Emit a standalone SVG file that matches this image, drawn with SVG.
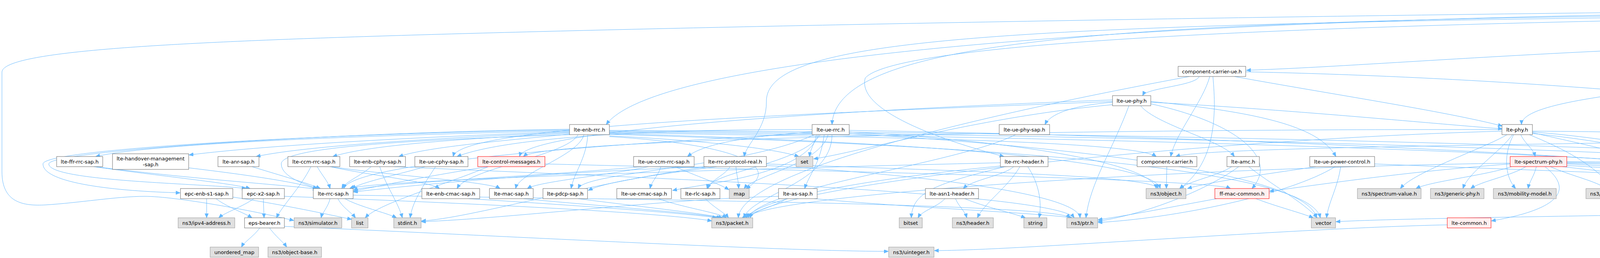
<svg xmlns="http://www.w3.org/2000/svg" width="5567" height="661" viewBox="0 0 5567 661">
<style>
text{font-family:"DejaVu Sans","Liberation Sans",sans-serif;font-size:13px;text-anchor:middle;dominant-baseline:central;fill:#000}
.w rect{fill:#fff;stroke:#666;stroke-width:1}
.g rect{fill:#e0e0e0;stroke:#999;stroke-width:1}
.r rect{fill:#fff0f0;stroke:#f00;stroke-width:1}
.t rect{fill:#999;stroke:#666;stroke-width:1}
#edges path{fill:none;stroke:#63b8ff;stroke-width:1;marker-end:url(#a)}
</style>
<defs>
<marker id="a" markerWidth="12" markerHeight="10" refX="11" refY="4.5" orient="auto" markerUnits="userSpaceOnUse"><path d="M0,0L11,4.5L0,9z" fill="#63b8ff" stroke="#63b8ff"/></marker>
</defs>
<rect width="5567" height="661" fill="#fff"/>
<g id="edges">
<path d="M4831,46 C4831,68 4766,72 4766,94"/>
<path d="M4877,46 C4877,68 5068,72 5068,94"/>
<path d="M4897,46 C4897,68 5192,72 5192,94"/>
<path d="M4905,46 C4905,68 5314,72 5314,94"/>
<path d="M4912,46 C4912,68 5441,72 5441,94"/>
<path d="M4864,46 C4864,169 4982,196 4982,319"/>
<path d="M4880,46 C4950,110 5300,150 5440,125 C5560,105 5562,200 5560,260 C5556,360 5480,430 5455,483"/>
<path d="M4767,30 C3200,40 1700,120 1552,319"/>
<path d="M4767,34 C3000,50 2140,80 2130,319"/>
<path d="M4767,38 C2600,60 1960,90 1962,260 C1963,330 1910,370 1905,401"/>
<path d="M4767,42 C3500,60 2300,100 2215,200 C2190,290 2450,370 2570,401"/>
<path d="M4767,26 C3500,36 1500,70 700,102 C300,118 5,140 5,185 L5,440 C5,520 60,528 116,525 C200,520 300,503 370,503 C450,503 650,540 752,565"/>
<path d="M4690,110 C4000,125 3500,170 3191,180"/>
<path d="M4735,120 C4735,220 3895,220 3895,319"/>
<path d="M4790,120 C4870,180 4905,300 4905,401"/>
<path d="M4740,120 C4650,220 4660,400 4730,483"/>
<path d="M4752,120 C4710,300 5090,380 5100,483"/>
<path d="M4775,120 C4820,300 5250,380 5265,483"/>
<path d="M4837,113 C5100,140 5515,200 5515,260 C5515,400 5470,440 5450,483"/>
<path d="M3070,196 C3060,220 2935,225 2925,245"/>
<path d="M3097,196 C3080,260 3010,340 2997,401"/>
<path d="M3105,196 C3115,300 3110,420 3020,483"/>
<path d="M3045,196 C2700,260 1900,420 1890,558"/>
<path d="M3189,184 C4200,205 5380,330 5420,483"/>
<path d="M3160,196 C3400,240 3700,285 3846,323"/>
<path d="M2848,262 C2750,270 2690,290 2675,319"/>
<path d="M2946,262 C3300,280 3700,320 3846,330"/>
<path d="M2920,271 C2960,320 3130,360 3160,401"/>
<path d="M2946,266 C3150,310 3280,400 3205,483"/>
<path d="M2946,260 C3250,290 3380,330 3420,401"/>
<path d="M2890,271 C2850,380 2790,470 2780,558"/>
<path d="M2848,256 C2200,280 1350,330 1330,401"/>
<path d="M2848,260 C2100,290 1180,320 1160,401"/>
<path d="M2850,268 C2500,300 2200,390 2083,407"/>
<path d="M1458,335 C1000,345 400,365 245,401"/>
<path d="M1458,337 C1100,350 700,370 484,397"/>
<path d="M1458,339 C1200,350 800,370 656,401"/>
<path d="M1460,341 C1200,355 950,370 852,401"/>
<path d="M1462,343 C1300,360 1100,375 1021,401"/>
<path d="M1458,333 C900,340 110,380 110,420 C110,470 300,490 461,494"/>
<path d="M1458,331 C900,338 125,385 125,420 C125,465 520,470 630,483"/>
<path d="M1458,345 C1000,360 720,380 720,420 C720,455 790,475 812,483"/>
<path d="M1480,345 C1450,400 1200,430 1170,483"/>
<path d="M1495,345 C1480,400 1330,440 1320,483"/>
<path d="M1505,345 C1500,410 1470,440 1462,483"/>
<path d="M1560,350 C1900,370 2000,430 1910,483"/>
<path d="M1560,348 C1800,360 1980,380 2045,401"/>
<path d="M1560,340 C2200,350 2900,360 2960,401"/>
<path d="M1560,342 C2200,360 2950,400 2970,483"/>
<path d="M1560,344 C2400,370 3350,420 3380,558"/>
<path d="M1560,338 C2800,350 4700,400 4730,483"/>
<path d="M1560,336 C3000,345 5080,400 5100,483"/>
<path d="M1560,334 C3200,340 5420,400 5430,483"/>
<path d="M2090,345 C2085,370 2075,380 2072,401"/>
<path d="M2110,345 C2100,420 2070,450 2060,483"/>
<path d="M2079,338 C1900,350 1800,370 1760,401"/>
<path d="M2079,332 C1700,330 1300,350 1170,401"/>
<path d="M2100,345 C2050,420 1820,440 1810,483"/>
<path d="M2095,345 C2060,450 1800,470 1722,488"/>
<path d="M2085,345 C1900,430 1500,440 1480,483"/>
<path d="M2080,342 C1500,370 900,420 880,483"/>
<path d="M2120,345 C2100,420 1930,450 1905,483"/>
<path d="M2130,345 C2130,470 1920,500 1905,558"/>
<path d="M2174,338 C2600,360 2950,420 2960,483"/>
<path d="M2174,334 C3200,350 4700,420 4720,483"/>
<path d="M2174,342 C2800,380 3350,450 3370,558"/>
<path d="M2600,345 C2450,420 1950,480 1915,558"/>
<path d="M3893,345 C3905,370 3925,380 3930,401"/>
<path d="M3858,345 C3800,380 3620,440 3585,483"/>
<path d="M3872,345 C3840,390 3760,440 3745,483"/>
<path d="M3875,345 C3850,390 3850,450 3880,483"/>
<path d="M3915,345 C4000,380 4080,420 4130,483"/>
<path d="M3923,340 C4100,380 4340,430 4350,483"/>
<path d="M3923,338 C4200,360 4540,430 4550,483"/>
<path d="M3923,342 C4100,360 4200,385 4288,398"/>
<path d="M3923,336 C4700,340 5400,400 5420,483"/>
<path d="M3845,332 C3000,330 1400,350 1340,401"/>
<path d="M3845,336 C3000,360 1950,480 1920,558"/>
<path d="M4975,345 C4960,370 4935,380 4930,401"/>
<path d="M4996,345 C5030,400 5090,450 5110,483"/>
<path d="M5024,345 C5100,370 5200,385 5245,401"/>
<path d="M5064,338 C5300,350 5430,400 5432,483"/>
<path d="M5029,345 C5150,400 5250,453 5400,453 C5500,453 5540,470 5530,490 C5520,515 5400,520 4900,538 C4200,552 3600,558 3420,568"/>
<path d="M4940,345 C4500,370 3100,370 3010,401"/>
<path d="M4930,345 C4850,400 4770,440 4765,483"/>
<path d="M1869,427 C1855,450 1820,460 1812,483"/>
<path d="M1884,427 C1886,450 1890,460 1891,483"/>
<path d="M1835,427 C1700,445 1550,465 1506,488"/>
<path d="M1815,427 C1400,440 1000,480 905,492"/>
<path d="M1962,420 C2500,440 2950,450 2965,483"/>
<path d="M1962,424 C2400,450 2760,500 2765,558"/>
<path d="M1810,427 C1500,470 1200,560 1079,566"/>
<path d="M2595,427 C2570,450 2490,460 2466,483"/>
<path d="M2611,427 C2580,480 2520,520 2502,558"/>
<path d="M2631,427 C2660,470 2668,520 2660,558"/>
<path d="M2573,427 C2400,470 2335,490 2333,558"/>
<path d="M2561,417 C2000,430 950,460 895,483"/>
<path d="M2565,425 C2300,450 1950,500 1910,558"/>
<path d="M2419,509 C2400,530 2360,540 2350,558"/>
<path d="M2446,509 C2455,530 2470,540 2475,558"/>
<path d="M2470,509 C2520,530 2590,545 2625,558"/>
<path d="M2987,427 C2987,450 2986,460 2986,483"/>
<path d="M3153,427 C3120,450 3040,465 3020,483"/>
<path d="M3171,427 C3100,480 2950,545 2811,567"/>
<path d="M3197,427 C3250,470 3340,520 3372,558"/>
<path d="M3115,509 C3000,530 2900,550 2811,563"/>
<path d="M3215,509 C3270,530 3330,545 3362,558"/>
<path d="M3369,427 C3250,445 3100,465 3040,483"/>
<path d="M3418,427 C3300,500 3000,560 2811,570"/>
<path d="M3432,427 C3425,480 3400,520 3396,558"/>
<path d="M3519,420 C4000,440 4700,460 4725,483"/>
<path d="M3870,427 C3800,450 3660,465 3625,483"/>
<path d="M3906,427 C3870,450 3790,465 3765,483"/>
<path d="M3933,427 C3928,450 3915,465 3912,483"/>
<path d="M3955,427 C4010,470 4030,530 3818,566"/>
<path d="M3969,427 C4020,450 4090,465 4110,483"/>
<path d="M4000,427 C4200,450 4330,465 4345,483"/>
<path d="M4011,424 C4300,440 4530,460 4545,483"/>
<path d="M4011,420 C4400,440 4700,460 4728,483"/>
<path d="M4011,418 C4500,430 4880,460 4890,483"/>
<path d="M4011,416 C4600,425 5080,450 5090,483"/>
<path d="M4011,414 C4800,420 5400,450 5415,483"/>
<path d="M3866,420 C3600,440 3400,470 3250,490"/>
<path d="M3866,418 C3000,430 1950,500 1910,558"/>
<path d="M4920,427 L4920,483"/>
<path d="M4949,427 C5000,450 5070,465 5095,483"/>
<path d="M4971,427 C5060,450 5200,465 5230,483"/>
<path d="M4983,425 C5150,440 5350,460 5400,483"/>
<path d="M4894,427 C4860,450 4800,465 4780,483"/>
<path d="M240,427 C400,450 600,470 640,483"/>
<path d="M245,427 C500,460 750,475 812,485"/>
<path d="M483,430 C650,450 780,470 815,486"/>
<path d="M645,427 C720,450 790,470 820,483"/>
<path d="M796,427 C770,480 720,530 708,558"/>
<path d="M812,427 C825,450 840,465 845,483"/>
<path d="M845,427 C950,450 1100,465 1125,483"/>
<path d="M848,427 C1000,450 1250,465 1280,483"/>
<path d="M950,427 C925,450 885,465 875,483"/>
<path d="M972,427 C990,480 1020,520 1030,558"/>
<path d="M1010,427 C1500,450 2700,490 2750,558"/>
<path d="M1088,427 C1030,445 930,465 900,483"/>
<path d="M1115,427 C1080,480 1055,520 1050,558"/>
<path d="M1249,427 C1100,450 950,480 905,490"/>
<path d="M1250,427 C1150,470 970,520 935,558"/>
<path d="M1395,420 C2200,440 3100,460 3150,483"/>
<path d="M1692,427 C1685,450 1668,465 1664,483"/>
<path d="M1728,427 C1780,450 1840,470 1866,486"/>
<path d="M1643,427 C1400,450 950,470 905,487"/>
<path d="M1660,427 C1550,450 1380,465 1350,483"/>
<path d="M845,509 C840,530 825,545 822,558"/>
<path d="M865,509 C875,530 900,545 910,558"/>
<path d="M883,509 C920,530 990,545 1015,558"/>
<path d="M904,500 C1500,510 2700,520 2740,558"/>
<path d="M529,509 L529,558"/>
<path d="M553,509 C580,530 625,545 645,558"/>
<path d="M596,505 C700,520 820,545 900,562"/>
<path d="M650,509 C620,530 575,545 560,558"/>
<path d="M674,509 L676,558"/>
<path d="M728,503 C1200,520 1700,545 1822,566"/>
<path d="M665,584 C650,605 625,620 618,633"/>
<path d="M690,584 C705,605 725,620 734,633"/>
<path d="M728,580 C1200,600 2000,644 2274,644"/>
<path d="M3705,576 C3300,585 2600,642 2392,642"/>
<path d="M1200,509 C1450,525 1750,545 1835,558"/>
<path d="M1340,509 C1500,525 1780,545 1845,558"/>
<path d="M1480,509 C1600,525 1790,545 1850,558"/>
<path d="M1686,509 C1740,530 1840,545 1860,558"/>
<path d="M1806,509 C1825,530 1855,545 1865,558"/>
<path d="M2014,509 C1980,530 1920,545 1900,558"/>
<path d="M1993,503 C1700,510 1300,560 1079,568"/>
<path d="M2085,509 C2300,530 2650,545 2745,558"/>
</g>
<g id="n-top" class="t"><rect x="4767" y="5" width="151" height="41"/><text x="4842.5" y="16.5">src/lte/model/lte-rrc</text><text x="4842.5" y="32">-protocol-real.cc</text></g>
<g id="n-lte-ue-net-device" class="w"><rect x="4690" y="94" width="147" height="26"/><text x="4763.5" y="107">lte-ue-net-device.h</text></g>
<g id="n-fatal-error" class="g"><rect x="5011" y="94" width="127" height="26"/><text x="5074.5" y="107">ns3/fatal-error.h</text></g>
<g id="n-log" class="g"><rect x="5162" y="94" width="82" height="26"/><text x="5203" y="107">ns3/log.h</text></g>
<g id="n-node-list" class="g"><rect x="5269" y="94" width="119" height="26"/><text x="5328.5" y="107">ns3/node-list.h</text></g>
<g id="n-node" class="g"><rect x="5413" y="94" width="94" height="26"/><text x="5460" y="107">ns3/node.h</text></g>
<g id="n-component-carrier-ue" class="w"><rect x="3016" y="170" width="173" height="26"/><text x="3102.5" y="183">component-carrier-ue.h</text></g>
<g id="n-lte-ue-phy" class="w"><rect x="2848" y="245" width="98" height="26"/><text x="2897" y="258">lte-ue-phy.h</text></g>
<g id="n-lte-enb-rrc" class="w"><rect x="1458" y="319" width="102" height="26"/><text x="1509" y="332">lte-enb-rrc.h</text></g>
<g id="n-lte-ue-rrc" class="w"><rect x="2079" y="319" width="95" height="26"/><text x="2126.5" y="332">lte-ue-rrc.h</text></g>
<g id="n-lte-ue-phy-sap" class="w"><rect x="2558" y="319" width="129" height="26"/><text x="2622.5" y="332">lte-ue-phy-sap.h</text></g>
<g id="n-lte-phy" class="w"><rect x="3845" y="319" width="78" height="26"/><text x="3884" y="332">lte-phy.h</text></g>
<g id="n-lte-enb-net-device" class="w"><rect x="4908" y="319" width="156" height="26"/><text x="4986" y="332">lte-enb-net-device.h</text></g>
<g id="n-lte-ffr-rrc-sap" class="w"><rect x="145" y="401" width="118" height="26"/><text x="204" y="414">lte-ffr-rrc-sap.h</text></g>
<g id="n-lte-handover-management-sap" class="w"><rect x="288" y="394" width="195" height="40"/><text x="385.5" y="406.5">lte-handover-management</text><text x="385.5" y="421.5">-sap.h</text></g>
<g id="n-lte-anr-sap" class="w"><rect x="558" y="401" width="105" height="26"/><text x="610.5" y="414">lte-anr-sap.h</text></g>
<g id="n-lte-ccm-rrc-sap" class="w"><rect x="737" y="401" width="133" height="26"/><text x="803.5" y="414">lte-ccm-rrc-sap.h</text></g>
<g id="n-lte-enb-cphy-sap" class="w"><rect x="895" y="401" width="143" height="26"/><text x="966.5" y="414">lte-enb-cphy-sap.h</text></g>
<g id="n-lte-ue-cphy-sap" class="w"><rect x="1062" y="401" width="136" height="26"/><text x="1130" y="414">lte-ue-cphy-sap.h</text></g>
<g id="n-lte-control-messages" class="r"><rect x="1223" y="401" width="172" height="26"/><text x="1309" y="414">lte-control-messages.h</text></g>
<g id="n-lte-ue-ccm-rrc-sap" class="w"><rect x="1622" y="401" width="155" height="26"/><text x="1699.5" y="414">lte-ue-ccm-rrc-sap.h</text></g>
<g id="n-lte-rrc-protocol-real" class="w"><rect x="1802" y="401" width="160" height="26"/><text x="1882" y="414">lte-rrc-protocol-real.h</text></g>
<g id="n-set" class="g"><rect x="2038" y="401" width="43" height="26"/><text x="2059.5" y="414">set</text></g>
<g id="n-lte-rrc-header" class="w"><rect x="2561" y="401" width="122" height="26"/><text x="2622" y="414">lte-rrc-header.h</text></g>
<g id="n-component-carrier" class="w"><rect x="2911" y="401" width="153" height="26"/><text x="2987.5" y="414">component-carrier.h</text></g>
<g id="n-lte-amc" class="w"><rect x="3141" y="401" width="83" height="26"/><text x="3182.5" y="414">lte-amc.h</text></g>
<g id="n-lte-ue-power-control" class="w"><rect x="3353" y="401" width="166" height="26"/><text x="3436" y="414">lte-ue-power-control.h</text></g>
<g id="n-lte-spectrum-phy" class="r"><rect x="3866" y="401" width="145" height="26"/><text x="3938.5" y="414">lte-spectrum-phy.h</text></g>
<g id="n-spectrum-signal-parameters" class="g"><rect x="4287" y="394" width="155" height="40"/><text x="4364.5" y="406.5">ns3/spectrum-signal</text><text x="4364.5" y="421.5">-parameters.h</text></g>
<g id="n-lte-net-device" class="w"><rect x="4857" y="401" width="126" height="26"/><text x="4920" y="414">lte-net-device.h</text></g>
<g id="n-mac48-address" class="g"><rect x="5212" y="401" width="162" height="26"/><text x="5293" y="414">ns3/mac48-address.h</text></g>
<g id="n-epc-enb-s1-sap" class="w"><rect x="462" y="483" width="134" height="26"/><text x="529" y="496">epc-enb-s1-sap.h</text></g>
<g id="n-epc-x2-sap" class="w"><rect x="620" y="483" width="108" height="26"/><text x="674" y="496">epc-x2-sap.h</text></g>
<g id="n-lte-rrc-sap" class="w"><rect x="802" y="483" width="102" height="26"/><text x="853" y="496">lte-rrc-sap.h</text></g>
<g id="n-lte-enb-cmac-sap" class="w"><rect x="1080" y="483" width="148" height="26"/><text x="1154" y="496">lte-enb-cmac-sap.h</text></g>
<g id="n-lte-mac-sap" class="w"><rect x="1253" y="483" width="112" height="26"/><text x="1309" y="496">lte-mac-sap.h</text></g>
<g id="n-lte-pdcp-sap" class="w"><rect x="1390" y="483" width="114" height="26"/><text x="1447" y="496">lte-pdcp-sap.h</text></g>
<g id="n-lte-ue-cmac-sap" class="w"><rect x="1579" y="483" width="140" height="26"/><text x="1649" y="496">lte-ue-cmac-sap.h</text></g>
<g id="n-lte-rlc-sap" class="w"><rect x="1743" y="483" width="100" height="26"/><text x="1793" y="496">lte-rlc-sap.h</text></g>
<g id="n-map" class="g"><rect x="1867" y="483" width="51" height="26"/><text x="1892.5" y="496">map</text></g>
<g id="n-lte-as-sap" class="w"><rect x="1993" y="483" width="99" height="26"/><text x="2042.5" y="496">lte-as-sap.h</text></g>
<g id="n-lte-asn1-header" class="w"><rect x="2369" y="483" width="136" height="26"/><text x="2437" y="496">lte-asn1-header.h</text></g>
<g id="n-object" class="g"><rect x="2934" y="483" width="102" height="26"/><text x="2985" y="496">ns3/object.h</text></g>
<g id="n-ff-mac-common" class="r"><rect x="3110" y="483" width="139" height="26"/><text x="3179.5" y="496">ff-mac-common.h</text></g>
<g id="n-spectrum-value" class="g"><rect x="3475" y="483" width="163" height="26"/><text x="3556.5" y="496">ns3/spectrum-value.h</text></g>
<g id="n-generic-phy" class="g"><rect x="3662" y="483" width="137" height="26"/><text x="3730.5" y="496">ns3/generic-phy.h</text></g>
<g id="n-mobility-model" class="g"><rect x="3823" y="483" width="161" height="26"/><text x="3903.5" y="496">ns3/mobility-model.h</text></g>
<g id="n-spectrum-channel" class="g"><rect x="4060" y="483" width="179" height="26"/><text x="4149.5" y="496">ns3/spectrum-channel.h</text></g>
<g id="n-spectrum-interference" class="g"><rect x="4263" y="483" width="207" height="26"/><text x="4366.5" y="496">ns3/spectrum-interference.h</text></g>
<g id="n-spectrum-phy" class="g"><rect x="4494" y="483" width="150" height="26"/><text x="4569" y="496">ns3/spectrum-phy.h</text></g>
<g id="n-traced-callback" class="g"><rect x="4668" y="483" width="162" height="26"/><text x="4749" y="496">ns3/traced-callback.h</text></g>
<g id="n-net-device" class="g"><rect x="4854" y="483" width="132" height="26"/><text x="4920" y="496">ns3/net-device.h</text></g>
<g id="n-event-id" class="g"><rect x="5061" y="483" width="115" height="26"/><text x="5118.5" y="496">ns3/event-id.h</text></g>
<g id="n-mac64-address" class="g"><rect x="5202" y="483" width="162" height="26"/><text x="5283" y="496">ns3/mac64-address.h</text></g>
<g id="n-nstime" class="g"><rect x="5389" y="483" width="108" height="26"/><text x="5443" y="496">ns3/nstime.h</text></g>
<g id="n-ipv4-address" class="g"><rect x="456" y="558" width="145" height="26"/><text x="528.5" y="571">ns3/ipv4-address.h</text></g>
<g id="n-eps-bearer" class="w"><rect x="626" y="558" width="102" height="26"/><text x="677" y="571">eps-bearer.h</text></g>
<g id="n-simulator" class="g"><rect x="753" y="558" width="122" height="26"/><text x="814" y="571">ns3/simulator.h</text></g>
<g id="n-list" class="g"><rect x="900" y="558" width="42" height="26"/><text x="921" y="571">list</text></g>
<g id="n-stdint" class="g"><rect x="1008" y="558" width="70" height="26"/><text x="1043" y="571">stdint.h</text></g>
<g id="n-packet" class="g"><rect x="1822" y="558" width="105" height="26"/><text x="1874.5" y="571">ns3/packet.h</text></g>
<g id="n-bitset" class="g"><rect x="2302" y="558" width="59" height="26"/><text x="2331.5" y="571">bitset</text></g>
<g id="n-header" class="g"><rect x="2438" y="558" width="105" height="26"/><text x="2490.5" y="571">ns3/header.h</text></g>
<g id="n-string" class="g"><rect x="2621" y="558" width="59" height="26"/><text x="2650.5" y="571">string</text></g>
<g id="n-ptr" class="g"><rect x="2731" y="558" width="79" height="26"/><text x="2770.5" y="571">ns3/ptr.h</text></g>
<g id="n-vector" class="g"><rect x="3357" y="558" width="62" height="26"/><text x="3388" y="571">vector</text></g>
<g id="n-lte-common" class="r"><rect x="3705" y="558" width="112" height="26"/><text x="3761" y="571">lte-common.h</text></g>
<g id="n-unordered-map" class="g"><rect x="538" y="633" width="124" height="26"/><text x="600" y="646">unordered_map</text></g>
<g id="n-object-base" class="g"><rect x="686" y="633" width="137" height="26"/><text x="754.5" y="646">ns3/object-base.h</text></g>
<g id="n-uinteger" class="g"><rect x="2275" y="633" width="116" height="26"/><text x="2333" y="646">ns3/uinteger.h</text></g>
</svg>
